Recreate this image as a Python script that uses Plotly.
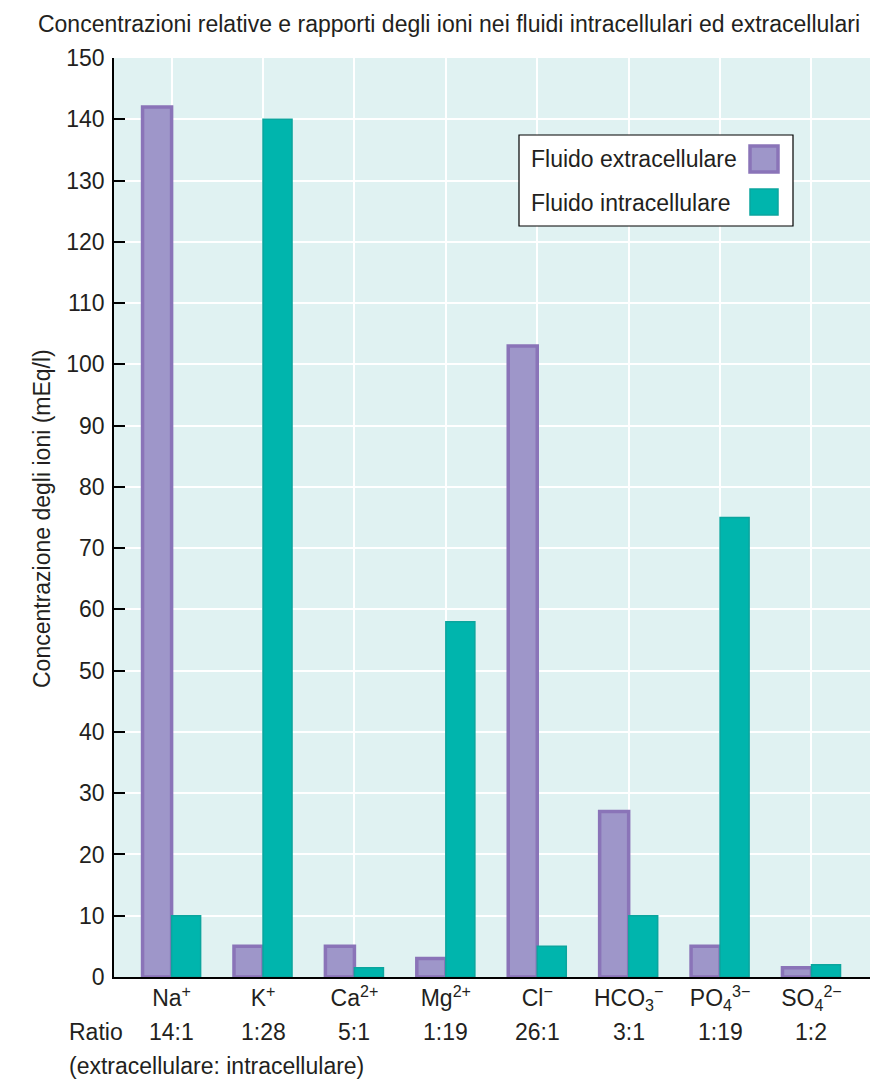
import plotly.graph_objects as go

ions = ["Na<sup>+</sup>", "K<sup>+</sup>", "Ca<sup>2+</sup>", "Mg<sup>2+</sup>", "Cl<sup>−</sup>",
        "HCO<sub>3</sub><sup>−</sup>", "PO<sub>4</sub><sup>3−</sup>", "SO<sub>4</sub><sup>2−</sup>"]
extracellular = [142, 5, 5, 3, 103, 27, 5, 1.5]
intracellular = [10, 140, 1.5, 58, 5, 10, 75, 2]
ratios = ["14:1", "1:28", "5:1", "1:19", "26:1", "3:1", "1:19", "1:2"]
y_ticks = list(range(0, 151, 10))

FONT = "Liberation Sans, Arial, sans-serif"
FS = 23
TXT = "#231f20"
EXT_FILL = "#9e96c9"
EXT_LINE = "#8a74b8"
INT_FILL = "#00b5ad"
INT_LINE = "#0ba59e"
BG = "#e0f2f2"

fig = go.Figure()
fig.add_trace(go.Bar(x=ions, y=extracellular, name="Fluido extracellulare",
                     marker=dict(color=EXT_FILL, line=dict(color=EXT_LINE, width=3.5)),
                     showlegend=False))
fig.add_trace(go.Bar(x=ions, y=intracellular, name="Fluido intracellulare",
                     marker=dict(color=INT_FILL, line=dict(color=INT_LINE, width=1.5)),
                     showlegend=False))

W, H = 883, 1086
L, R, T, B = 114, 13, 58, 109
pw, ph = W - L - R, H - T - B

def px(x):
    return (x - L) / pw

def py(y):
    return (H - B - y) / ph

fig.update_layout(
    width=W, height=H,
    margin=dict(l=L, r=R, t=T, b=B),
    paper_bgcolor="white",
    plot_bgcolor=BG,
    barmode="group",
    bargap=0.365,
    bargroupgap=0,
    font=dict(family=FONT, size=FS, color=TXT),
    title=dict(text="Concentrazioni relative e rapporti degli ioni nei fluidi intracellulari ed extracellulari",
               xref="container", x=449 / W, xanchor="center",
               yref="container", y=1 - 24 / H, yanchor="middle",
               font=dict(family=FONT, size=FS, color=TXT)),
)

fig.update_xaxes(
    type="category",
    categoryorder="array", categoryarray=ions,
    range=[-0.63, 7.64],
    showgrid=True, gridcolor="white", gridwidth=1.5,
    showline=True, linecolor="black", linewidth=1.5,
    ticks="", tickfont=dict(family=FONT, size=FS, color=TXT),
    fixedrange=True,
)
fig.update_yaxes(
    range=[0, 150],
    tickvals=y_ticks,
    showgrid=True, gridcolor="white", gridwidth=1.5,
    zeroline=False,
    showline=True, linecolor="black", linewidth=1.5,
    ticks="inside", ticklen=11, tickcolor="black", tickwidth=1.5,
    ticklabelstandoff=3,
    tickfont=dict(family=FONT, size=FS, color=TXT),
    fixedrange=True,
)

annotations = []
annotations.append(dict(text="Concentrazione degli ioni (mEq/l)", textangle=-90,
                        xref="paper", yref="paper", x=px(42), y=py(519),
                        xanchor="center", yanchor="middle", showarrow=False,
                        font=dict(family=FONT, size=FS, color=TXT)))
annotations.append(dict(text="Ratio", xref="paper", yref="paper", x=px(67), y=py(1032),
                        xanchor="left", yanchor="middle", showarrow=False,
                        font=dict(family=FONT, size=FS, color=TXT)))
for ion, r in zip(ions, ratios):
    annotations.append(dict(text=r, xref="x", yref="paper", x=ion, y=py(1032),
                            xanchor="center", yanchor="middle", showarrow=False,
                            font=dict(family=FONT, size=FS, color=TXT)))
annotations.append(dict(text="(extracellulare: intracellulare)", xref="paper", yref="paper",
                        x=px(67), y=py(1066), xanchor="left", yanchor="middle", showarrow=False,
                        font=dict(family=FONT, size=FS, color=TXT)))
# custom legend (text left, swatch right)
annotations.append(dict(text="Fluido extracellulare", xref="paper", yref="paper",
                        x=px(529), y=py(159), xanchor="left", yanchor="middle", showarrow=False,
                        font=dict(family=FONT, size=FS, color=TXT)))
annotations.append(dict(text="Fluido intracellulare", xref="paper", yref="paper",
                        x=px(529), y=py(203), xanchor="left", yanchor="middle", showarrow=False,
                        font=dict(family=FONT, size=FS, color=TXT)))
fig.update_layout(annotations=annotations)

shapes = [
    dict(type="rect", xref="paper", yref="paper", x0=px(519), x1=px(793), y0=py(226), y1=py(135),
         fillcolor="white", line=dict(color="black", width=1.2), layer="above"),
    dict(type="rect", xref="paper", yref="paper", x0=px(750), x1=px(778), y0=py(172), y1=py(146),
         fillcolor=EXT_FILL, line=dict(color=EXT_LINE, width=3.5), layer="above"),
    dict(type="rect", xref="paper", yref="paper", x0=px(750), x1=px(778), y0=py(215), y1=py(189),
         fillcolor=INT_FILL, line=dict(color=INT_LINE, width=1.5), layer="above"),
]
fig.update_layout(shapes=shapes)

fig.write_html("out.html")
